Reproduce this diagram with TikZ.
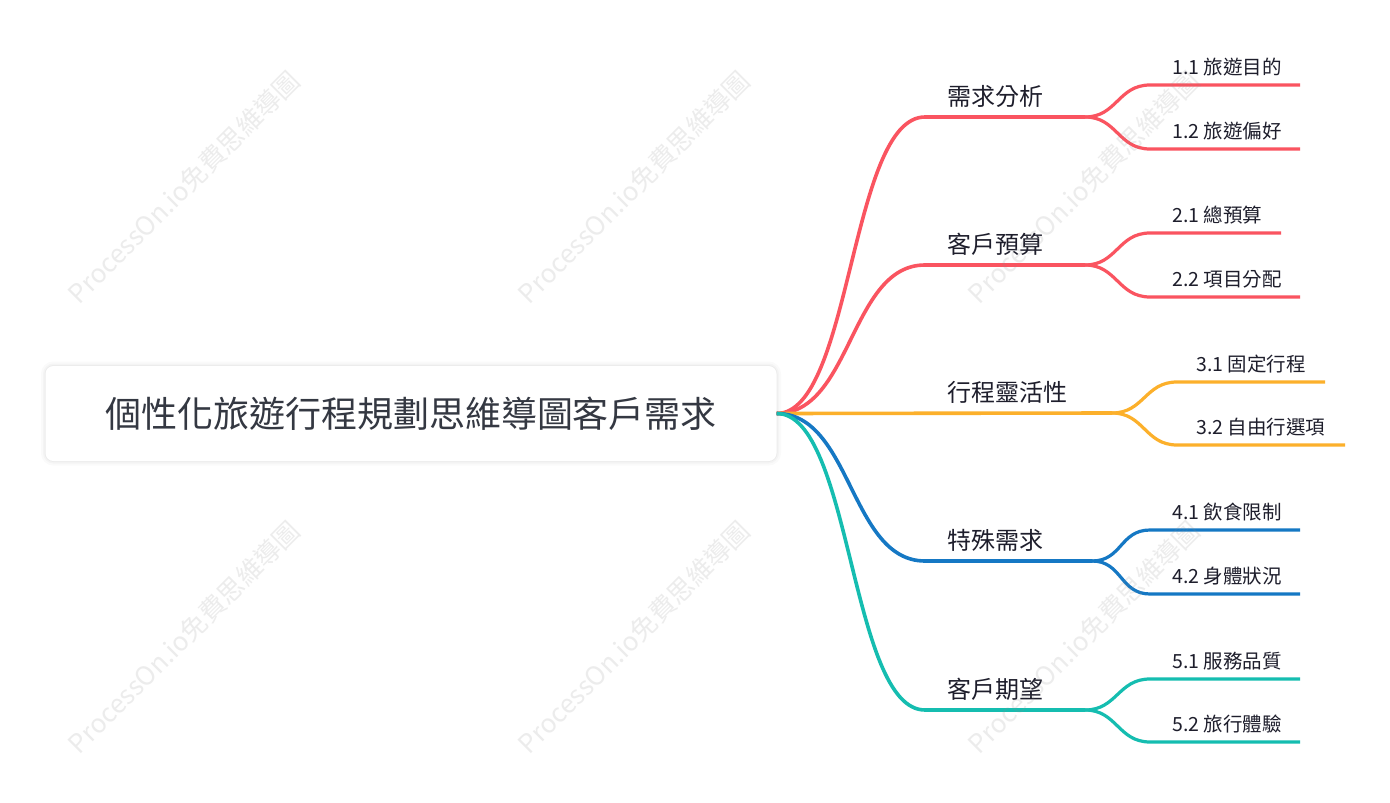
\documentclass[tikz,border=0pt]{standalone}
\usepackage{fontspec}
\setmainfont{Noto Sans CJK TC}
\usetikzlibrary{positioning}
\definecolor{BranchRed}{RGB}{250,84,96}
\definecolor{BranchAmber}{RGB}{252,176,43}
\definecolor{BranchBlue}{RGB}{21,120,196}
\definecolor{BranchTeal}{RGB}{21,189,176}
\definecolor{RootInk}{RGB}{52,56,66}
\definecolor{LabelInk}{RGB}{30,30,44}
\definecolor{MarkGray}{RGB}{140,140,140}
\tikzset{
  trunk/.style={line width=3.6pt},
  twig/.style={line width=3.2pt},
  rootbox/.style={fill=white,rounded corners=8pt,minimum width=731pt,
    minimum height=95pt,font=\fontsize{36}{40}\selectfont,text=RootInk,
    preaction={draw=black,opacity=0.02,line width=9pt},
    preaction={draw=black,opacity=0.025,line width=5pt},
    preaction={draw=black,opacity=0.03,line width=2pt}},
  branchlabel/.style={anchor=base west,inner sep=0pt,
    font=\fontsize{24}{28}\selectfont,text=LabelInk},
  leaflabel/.style={anchor=base west,inner sep=0pt,
    font=\fontsize{19.5}{22}\selectfont,text=LabelInk},
  watermark/.style={rotate=45,inner sep=0pt,
    font=\fontsize{26}{30}\selectfont,text=MarkGray,opacity=0.16}
}

\begin{document}
\begin{tikzpicture}[x=1pt,y=-1pt]
  \fill[white] (0,0) rectangle (1390,803);
  \useasboundingbox (0,0) rectangle (1390,803);
  \node[rootbox] (root) at (411,413.5) {個性化旅遊行程規劃思維導圖客戶需求};

  \coordinate (b1s) at (925,117);  \coordinate (b1f) at (1085,117);
  \coordinate (b2s) at (925,265);  \coordinate (b2f) at (1085,265);
  \coordinate (b3f) at (1112,413);
  \coordinate (b4s) at (925,561);  \coordinate (b4f) at (1092,561);
  \coordinate (b5s) at (925,710);  \coordinate (b5f) at (1085,710);

  \coordinate (l11s) at (1150,85);  \coordinate (l11e) at (1300,85);
  \coordinate (l12s) at (1150,149); \coordinate (l12e) at (1300,149);
  \coordinate (l21s) at (1150,233); \coordinate (l21e) at (1281,233);
  \coordinate (l22s) at (1150,297); \coordinate (l22e) at (1300,297);
  \coordinate (l31s) at (1177,382); \coordinate (l31e) at (1325,382);
  \coordinate (l32s) at (1177,445); \coordinate (l32e) at (1345,445);
  \coordinate (l41s) at (1150,530); \coordinate (l41e) at (1300,530);
  \coordinate (l42s) at (1150,594); \coordinate (l42e) at (1300,594);
  \coordinate (l51s) at (1150,679); \coordinate (l51e) at (1300,679);
  \coordinate (l52s) at (1150,742); \coordinate (l52e) at (1300,742);

  \draw[trunk,BranchRed] (root.east) .. controls +(75,0) and +(-75,0) .. (b1s) -- (b1f);
  \draw[trunk,BranchRed] (root.east) .. controls +(75,0) and +(-75,0) .. (b2s) -- (b2f);
  \draw[trunk,BranchAmber] (root.east) -- (b3f);
  \draw[trunk,BranchBlue] (root.east) .. controls +(75,0) and +(-75,0) .. (b4s) -- (b4f);
  \draw[trunk,BranchTeal] (root.east) .. controls +(75,0) and +(-75,0) .. (b5s) -- (b5f);

  \draw[twig,BranchRed] (b1f) .. controls +(32,0) and +(-32,0) .. (l11s) -- (l11e);
  \draw[twig,BranchRed] (b1f) .. controls +(32,0) and +(-32,0) .. (l12s) -- (l12e);
  \draw[twig,BranchRed] (b2f) .. controls +(32,0) and +(-32,0) .. (l21s) -- (l21e);
  \draw[twig,BranchRed] (b2f) .. controls +(32,0) and +(-32,0) .. (l22s) -- (l22e);
  \draw[twig,BranchAmber] (b3f) .. controls +(32,0) and +(-32,0) .. (l31s) -- (l31e);
  \draw[twig,BranchAmber] (b3f) .. controls +(32,0) and +(-32,0) .. (l32s) -- (l32e);
  \draw[twig,BranchBlue] (b4f) .. controls +(30,0) and +(-30,0) .. (l41s) -- (l41e);
  \draw[twig,BranchBlue] (b4f) .. controls +(30,0) and +(-30,0) .. (l42s) -- (l42e);
  \draw[twig,BranchTeal] (b5f) .. controls +(32,0) and +(-32,0) .. (l51s) -- (l51e);
  \draw[twig,BranchTeal] (b5f) .. controls +(32,0) and +(-32,0) .. (l52s) -- (l52e);

  \node[branchlabel] (b1) at (947,105.5) {需求分析};
  \node[branchlabel] (b2) at (947,253.5) {客戶預算};
  \node[branchlabel] (b3) at (947,401.5) {行程靈活性};
  \node[branchlabel] (b4) at (947,549.5) {特殊需求};
  \node[branchlabel] (b5) at (947,698.5) {客戶期望};

  \node[leaflabel] (l11) at (1172,74) {1.1 旅遊目的};
  \node[leaflabel] (l12) at (1172,138) {1.2 旅遊偏好};
  \node[leaflabel] (l21) at (1172,222) {2.1 總預算};
  \node[leaflabel] (l22) at (1172,286) {2.2 項目分配};
  \node[leaflabel] (l31) at (1196,371) {3.1 固定行程};
  \node[leaflabel] (l32) at (1196,434) {3.2 自由行選項};
  \node[leaflabel] (l41) at (1172,519) {4.1 飲食限制};
  \node[leaflabel] (l42) at (1172,583) {4.2 身體狀況};
  \node[leaflabel] (l51) at (1172,668) {5.1 服務品質};
  \node[leaflabel] (l52) at (1172,731) {5.2 旅行體驗};

  \node[watermark] (wm1) at (184,187) {ProcessOn.io免費思維導圖};
  \node[watermark] (wm2) at (634,187) {ProcessOn.io免費思維導圖};
  \node[watermark] (wm3) at (1084,187) {ProcessOn.io免費思維導圖};
  \node[watermark] (wm4) at (184,637) {ProcessOn.io免費思維導圖};
  \node[watermark] (wm5) at (634,637) {ProcessOn.io免費思維導圖};
  \node[watermark] (wm6) at (1084,637) {ProcessOn.io免費思維導圖};
\end{tikzpicture}
\end{document}
